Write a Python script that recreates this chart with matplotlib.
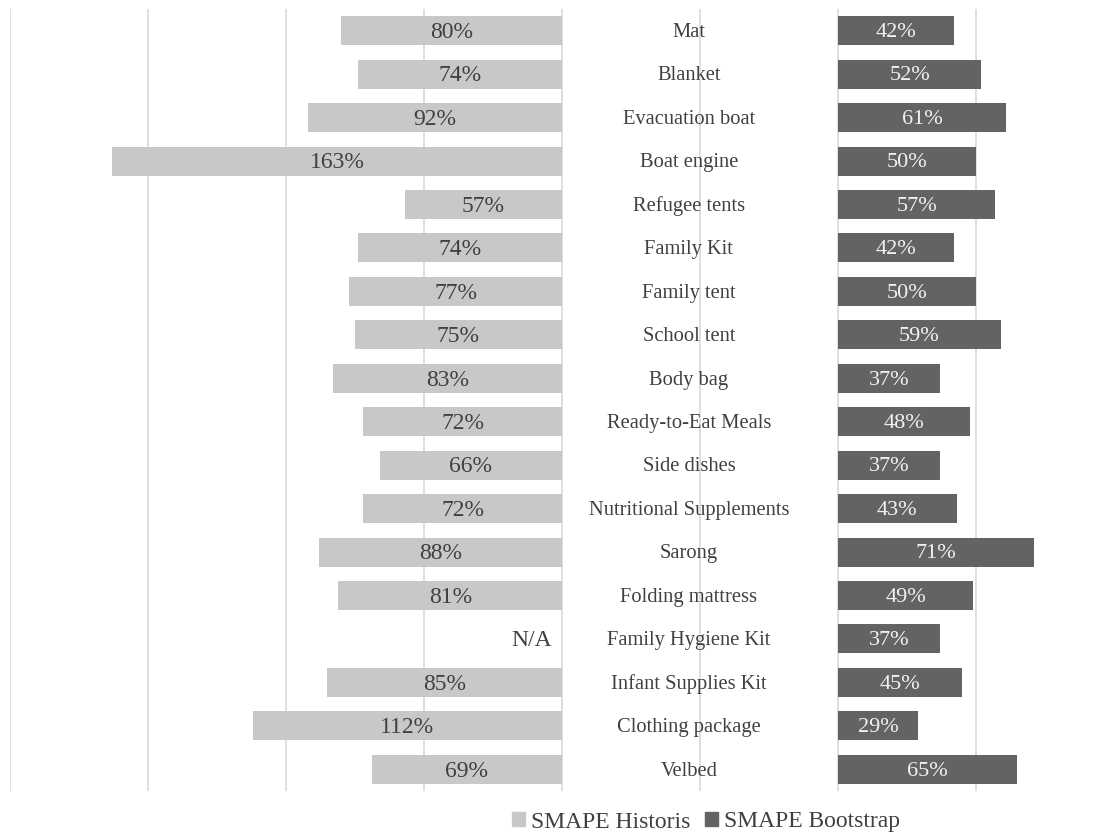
import numpy as np
import matplotlib
matplotlib.use('Agg')
from matplotlib import pyplot as plt
from matplotlib.patches import Patch

categories = ['Mat', 'Blanket', 'Evacuation boat', 'Boat engine', 'Refugee tents',
              'Family Kit', 'Family tent', 'School tent', 'Body bag', 'Ready-to-Eat Meals',
              'Side dishes', 'Nutritional Supplements', 'Sarong', 'Folding mattress',
              'Family Hygiene Kit', 'Infant Supplies Kit', 'Clothing package', 'Velbed']
historis = [80, 74, 92, 163, 57, 74, 77, 75, 83, 72, 66, 72, 88, 81, np.nan, 85, 112, 69]
bootstrap = [42, 52, 61, 50, 57, 42, 50, 59, 37, 48, 37, 43, 71, 49, 37, 45, 29, 65]

plt.rcParams['font.family'] = ['Liberation Serif', 'DejaVu Serif']

light = '#c8c8c8'
dark = '#636363'
text_col = '#404040'
gap = 100  # space between the two halves, in % units

fig = plt.figure(figsize=(10.96, 8.32), dpi=100)
ax = fig.add_axes([10 / 1096, 41 / 832, 1086 / 1096, 782 / 832])

y = np.arange(len(categories))
h = 0.67
hist = np.array(historis, dtype=float)
ax.barh(y, -np.nan_to_num(hist), height=h, color=light, zorder=2)
ax.barh(y, bootstrap, left=gap, height=h, color=dark, zorder=2)

for i, cat in enumerate(categories):
    ax.text(46, i + 0.04, cat, ha='center', va='center', fontsize=14.8, color=text_col, zorder=3)
    if np.isnan(hist[i]):
        ax.text(-11, i + 0.04, 'N/A', ha='center', va='center', fontsize=17, color=text_col, zorder=3)
    else:
        ax.text(-hist[i] / 2, i + 0.04, f'{int(hist[i])}%', ha='center', va='center',
                fontsize=17, color=text_col, zorder=3)
    ax.text(gap + bootstrap[i] / 2, i + 0.04, f'{bootstrap[i]}%', ha='center', va='center',
            fontsize=16, color='#f2f2f2', zorder=3)

ax.set_xlim(-200, 193.5)
ax.set_ylim(len(categories) - 0.5, -0.5)
ax.set_xticks(np.arange(-200, 200, 50))
ax.set_yticks([])
ax.tick_params(axis='x', length=0, labelbottom=False)
ax.grid(axis='x', color='#d9d9d9', linewidth=1.2, zorder=0)
ax.set_axisbelow(True)
for s in ax.spines.values():
    s.set_visible(False)

handles = [Patch(color=light, label='SMAPE Historis'), Patch(color=dark, label='SMAPE Bootstrap')]
fig.legend(handles=handles, loc='center', bbox_to_anchor=(706 / 1096, 10 / 832), ncol=2,
           frameon=False, fontsize=17, handlelength=0.55, handleheight=0.55, handletextpad=0.25,
           columnspacing=0.6, labelcolor=text_col)

fig.savefig('out.png', dpi=100)
